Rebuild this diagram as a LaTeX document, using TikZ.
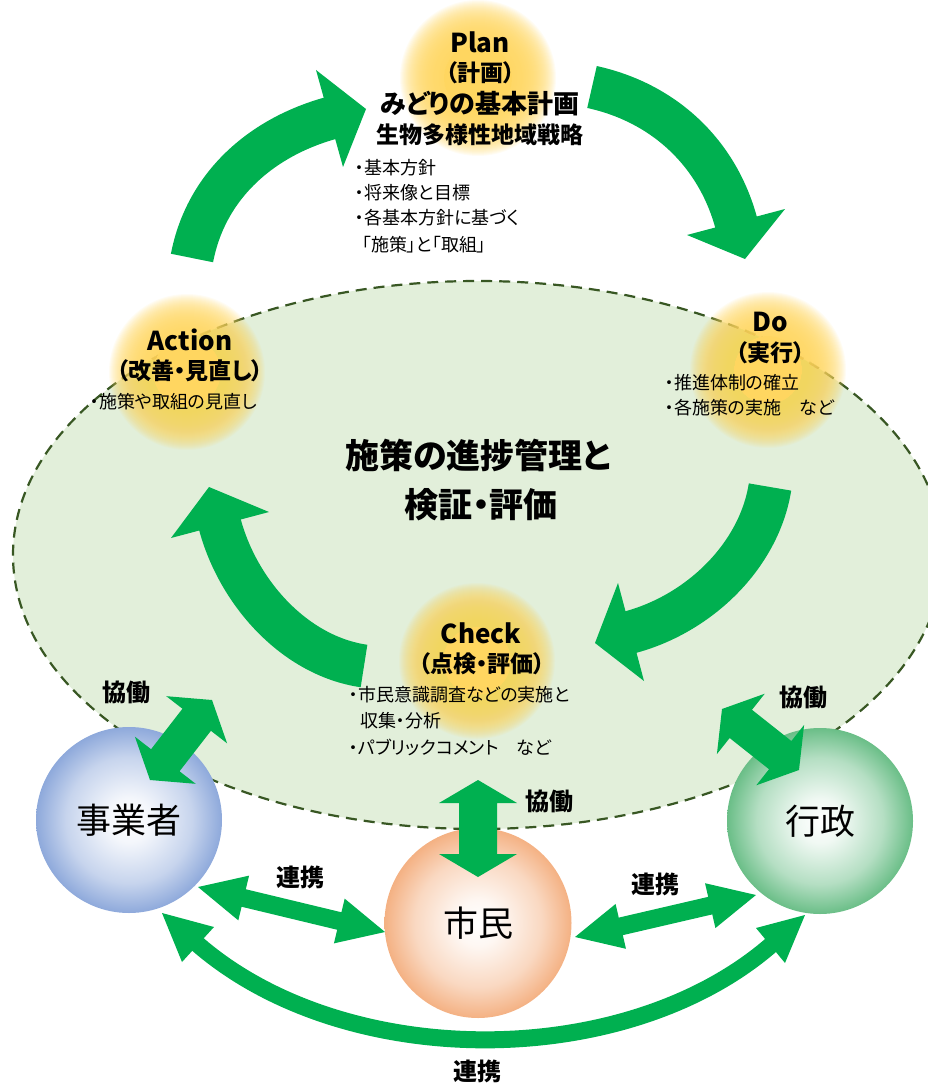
\documentclass[tikz,border=0pt]{standalone}
\usepackage{fontspec}
\setmainfont{Noto Sans CJK JP}[RawFeature={+palt}]
\usetikzlibrary{calc,shapes.geometric}
\definecolor{gr}{RGB}{0,176,80}
\definecolor{ellfill}{RGB}{226,239,218}
\definecolor{elldash}{RGB}{56,87,35}
\definecolor{glowc}{RGB}{255,214,96}
\definecolor{bblue}{RGB}{142,169,219}
\definecolor{bgreen}{RGB}{106,190,135}
\definecolor{borange}{RGB}{244,177,131}
\pgfdeclareradialshading{ballB}{\pgfpointorigin}{color(0bp)=(white); color(6bp)=(white!90!bblue); color(17bp)=(white!50!bblue); color(25bp)=(bblue); color(50bp)=(bblue)}
\pgfdeclareradialshading{ballG}{\pgfpointorigin}{color(0bp)=(white); color(6bp)=(white!90!bgreen); color(17bp)=(white!50!bgreen); color(25bp)=(bgreen); color(50bp)=(bgreen)}
\pgfdeclareradialshading{ballO}{\pgfpointorigin}{color(0bp)=(white); color(6bp)=(white!90!borange); color(17bp)=(white!50!borange); color(25bp)=(borange); color(50bp)=(borange)}
\newcommand\dblarrow[5]{%
 \fill[gr] (#1) -- ($(#1)!#4!(#2)!#5!90:(#2)$) -- ($(#1)!#4!(#2)!#3!90:(#2)$)
  -- ($(#2)!#4!(#1)!#3!-90:(#1)$) -- ($(#2)!#4!(#1)!#5!-90:(#1)$) -- (#2)
  -- ($(#2)!#4!(#1)!#5!90:(#1)$) -- ($(#2)!#4!(#1)!#3!90:(#1)$)
  -- ($(#1)!#4!(#2)!#3!-90:(#2)$) -- ($(#1)!#4!(#2)!#5!-90:(#2)$) -- cycle;}
\newcommand\glowdisc[1]{%
 \fill[glowc] (#1) circle (34pt);
 \foreach \r in {34,...,78} {\fill[glowc, fill opacity=0.07] (#1) circle (\r pt);}}
\tikzset{
 lbl/.style={inner sep=0pt, text=black},
 head/.style={lbl, font=\bfseries\fontsize{26}{26}\selectfont},
 sub/.style={lbl, font=\bfseries\fontsize{23}{23}\selectfont},
 big/.style={lbl, font=\bfseries\fontsize{34}{34}\selectfont},
 bul/.style={lbl, anchor=west, font=\fontsize{18}{18}\selectfont},
 tag/.style={lbl, font=\bfseries\fontsize{24}{24}\selectfont},
 ball/.style={circle, shade, inner sep=0pt, minimum size=186pt, font=\fontsize{35}{35}\selectfont},
 shaft/.style={draw=gr, line width=43pt},
 thin shaft/.style={draw=gr, line width=17pt},
 ellstyle/.style={fill=ellfill, draw=elldash, line width=2.2pt, dash pattern=on 11pt off 7pt},
}
\begin{document}
\begin{tikzpicture}[x=1pt,y=-1pt]
\useasboundingbox (0,0) rectangle (928,1086);
% big ellipse
\path[ellstyle] (478,555) ellipse [x radius=465pt, y radius=274pt];
% glows
\coordinate (gPlan) at (478,78);
\coordinate (gAct) at (187,372);
\coordinate (gDo) at (768,370);
\coordinate (gChk) at (477,661);
\glowdisc{gPlan}
\glowdisc{gAct}
\glowdisc{gDo}
\glowdisc{gChk}
% PDCA arrow coordinates
\coordinate (s1) at (192,258); \coordinate (c1a) at (206,185); \coordinate (c1b) at (262,137); \coordinate (e1) at (331,118);
\coordinate (h1a) at (316,70); \coordinate (t1) at (366,109); \coordinate (h1b) at (343,167);
\coordinate (s2) at (592,87); \coordinate (c2a) at (665,103); \coordinate (c2b) at (718,154); \coordinate (e2) at (736.5,224);
\coordinate (h2a) at (785,209); \coordinate (t2) at (745,259); \coordinate (h2b) at (687,235);
\coordinate (s3) at (770,487); \coordinate (c3a) at (759,556); \coordinate (c3b) at (699,614); \coordinate (e3) at (629.5,632.4);
\coordinate (h3a) at (618,583); \coordinate (t3) at (595,643); \coordinate (h3b) at (644,681);
\coordinate (s4) at (364,666); \coordinate (c4a) at (295,656); \coordinate (c4b) at (238,593); \coordinate (e4) at (219.6,523.5);
\coordinate (h4a) at (171,538); \coordinate (t4) at (209,487); \coordinate (h4b) at (269,512);
\draw[shaft] (s1) .. controls (c1a) and (c1b) .. (e1);
\fill[gr] (h1a) -- (t1) -- (h1b) -- cycle;
\draw[shaft] (s2) .. controls (c2a) and (c2b) .. (e2);
\fill[gr] (h2a) -- (t2) -- (h2b) -- cycle;
\draw[shaft] (s3) .. controls (c3a) and (c3b) .. (e3);
\fill[gr] (h3a) -- (t3) -- (h3b) -- cycle;
\draw[shaft] (s4) .. controls (c4a) and (c4b) .. (e4);
\fill[gr] (h4a) -- (t4) -- (h4b) -- cycle;
% Plan
\node[head] (planT) at (480,42) {Plan};
\node[sub] (planJ) at (480,73) {（計画）};
\node[sub, font=\bfseries\fontsize{26}{26}\selectfont] (plan1) at (480,104) {みどりの基本計画};
\node[sub] (plan2) at (480,135) {生物多様性地域戦略};
\node[bul] (pb1) at (355,168) {・基本方針};
\node[bul] (pb2) at (355,193) {・将来像と目標};
\node[bul] (pb3) at (355,218) {・各基本方針に基づく};
\node[bul] (pb4) at (362,245) {「施策」と「取組」};
% Action
\node[head] (actT) at (190,340) {Action};
\node[sub] (actJ) at (190,371) {（改善・見直し）};
\node[bul] (ab1) at (90,402) {・施策や取組の見直し};
% Do
\node[head] (doT) at (770,322) {Do};
\node[sub] (doJ) at (770,353) {（実行）};
\node[bul] (db1) at (665,383) {・推進体制の確立};
\node[bul] (db2) at (665,408) {・各施策の実施　など};
% Check
\node[head] (chT) at (481,633) {Check};
\node[sub] (chJ) at (482,664) {（点検・評価）};
\node[bul] (cb1) at (349,695) {・市民意識調査などの実施と};
\node[bul] (cb2) at (360,721) {収集・分析};
\node[bul] (cb3) at (349,747) {・パブリックコメント　など};
% center
\node[big] (mid1) at (478,455) {施策の進捗管理と};
\node[big] (mid2) at (481,505) {検証・評価};
% balls
\node[ball, shading=ballB] (jigyo) at (129,820) {事業者};
\node[ball, shading=ballG] (gyosei) at (820,821) {行政};
\node[ball, shading=ballO, ellipse, minimum width=187pt, minimum height=190pt] (shimin) at (478,923) {市民};
% collaboration arrows
\coordinate (ca1) at (212,700); \coordinate (cb1) at (150,780);
\coordinate (ca2) at (722,709); \coordinate (cb2) at (799,770);
\coordinate (ca3) at (478,780); \coordinate (cb3) at (478,877);
\dblarrow{ca1}{cb1}{18pt}{25pt}{38.5pt}
\dblarrow{ca2}{cb2}{18pt}{24pt}{38.5pt}
\dblarrow{ca3}{cb3}{19pt}{23pt}{39pt}
% renkei arrows
\coordinate (ra1) at (198,887); \coordinate (rb1) at (385,932);
\coordinate (ra2) at (575,937); \coordinate (rb2) at (756,895);
\dblarrow{ra1}{rb1}{9pt}{47pt}{23pt}
\dblarrow{ra2}{rb2}{9pt}{47pt}{23pt}
\coordinate (e5a) at (196,942.8); \coordinate (c5a) at (343,1072); \coordinate (c5b) at (626,1072); \coordinate (e5b) at (772.5,943.8);
\draw[thin shaft] (e5a) .. controls (c5a) and (c5b) .. (e5b);
\coordinate (t5a) at (162,913); \coordinate (h5a) at (214,927); \coordinate (h5b) at (182,962);
\coordinate (t5b) at (805,915); \coordinate (h5c) at (756,928); \coordinate (h5d) at (785,963);
\fill[gr] (t5a) -- (h5a) -- (h5b) -- cycle;
\fill[gr] (t5b) -- (h5c) -- (h5d) -- cycle;
% labels
\node[tag] (k1) at (126,692) {協働};
\node[tag] (k2) at (803,697) {協働};
\node[tag] (k3) at (549,801) {協働};
\node[tag] (r1) at (300,877) {連携};
\node[tag] (r2) at (655,884) {連携};
\node[tag] (r3) at (477,1071) {連携};
\end{tikzpicture}
\end{document}
